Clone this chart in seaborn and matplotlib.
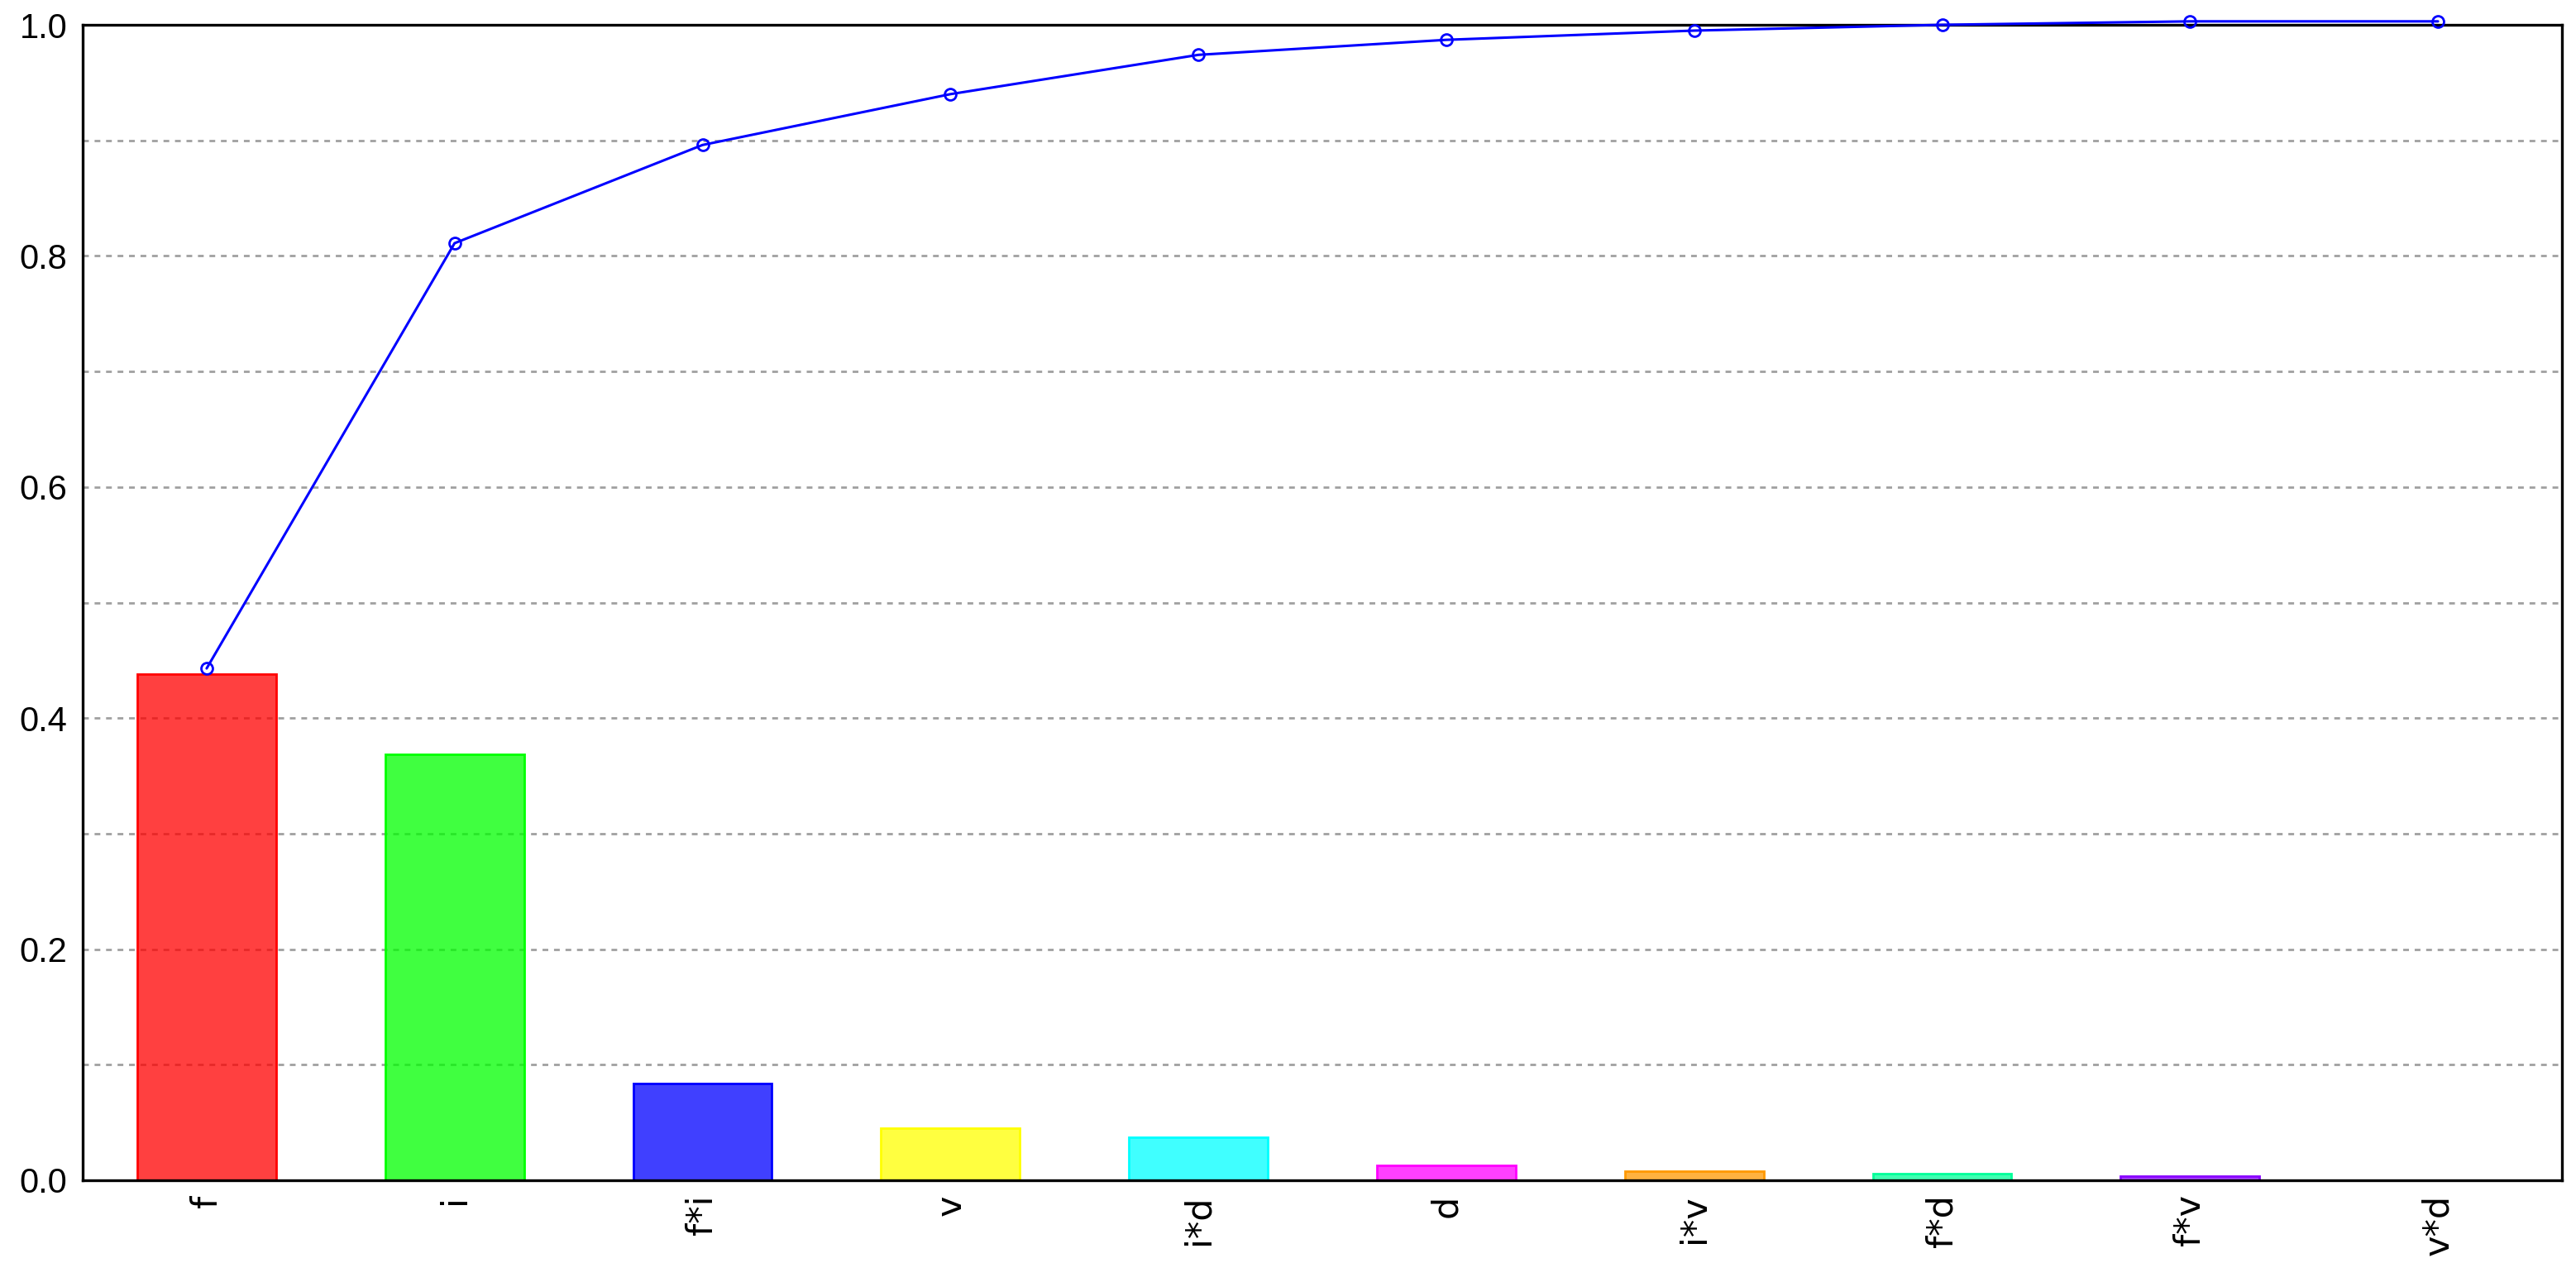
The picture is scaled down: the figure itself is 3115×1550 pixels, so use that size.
import matplotlib
matplotlib.use("Agg")
import matplotlib.pyplot as plt
from matplotlib.ticker import FuncFormatter
from matplotlib.colors import to_rgba
import numpy as np
import pandas as pd
import seaborn as sns

# ---- data ----
categories = ['f', 'i', 'f*i', 'v', 'i*d', 'd', 'i*v', 'f*d', 'f*v', 'v*d']
effects = [0.438, 0.369, 0.084, 0.045, 0.037, 0.013, 0.008, 0.0055, 0.0033, 0.0003]
cumulative = [0.443, 0.811, 0.896, 0.940, 0.974, 0.987, 0.995, 1.000, 1.003, 1.003]
bar_colors = ['#FF0000', '#00FF00', '#0000FF', '#FFFF00', '#00FFFF',
              '#FF00FF', '#FF9900', '#00FF99', '#8800FF', '#555555']
y_ticks = [0.0, 0.1, 0.2, 0.3, 0.4, 0.5, 0.6, 0.7, 0.8, 0.9, 1.0]

sns.set_theme(style='white')
plt.rcParams['font.family'] = ['DejaVu Sans']

W, H = 3115, 1550
fig = plt.figure(figsize=(W / 100, H / 100), dpi=100)
left, right, top, bottom = 100, 3098, 30, 1427
ax = fig.add_axes([left / W, 1 - bottom / H, (right - left) / W, (bottom - top) / H])

df = pd.DataFrame({'term': categories, 'effect': effects})
sns.barplot(data=df, x='term', y='effect', hue='term', palette=bar_colors,
            hue_order=categories, order=categories,
            width=0.56, saturation=1, legend=False, ax=ax)

for patch, c in zip(ax.patches, bar_colors):
    patch.set_facecolor(to_rgba(c, 0.75))
    patch.set_edgecolor(c)
    patch.set_linewidth(2.0)

ax.plot(np.arange(len(categories)), cumulative, color='#0000FF', linewidth=2.2,
        marker='o', markersize=10, markerfacecolor='none', markeredgecolor='#0000FF',
        markeredgewidth=2.0, clip_on=False, zorder=5)

ax.set_xlim(-0.5, len(categories) - 0.5)
ax.set_ylim(0.0, 1.0)
ax.set_yticks(y_ticks)
ax.yaxis.set_major_formatter(FuncFormatter(
    lambda v, p: f'{v:.1f}' if int(round(v * 10)) % 2 == 0 else ''))

ax.set_axisbelow(True)
ax.grid(False)
ax.yaxis.grid(True, color='#a0a0a0', linestyle=(0, (2.5, 2.5)), linewidth=2)

ax.tick_params(axis='both', which='major', direction='inout', length=15, width=2.2,
               color='black', labelcolor='black')
ax.tick_params(axis='x', labelrotation=90, labelsize=31, pad=5)
ax.tick_params(axis='y', labelsize=30, pad=6)
for lab in ax.get_yticklabels():
    lab.set_family(['Liberation Sans', 'DejaVu Sans'])

for s in ax.spines.values():
    s.set_visible(True)
    s.set_color('black')
    s.set_linewidth(2.4)

ax.set_xlabel('')
ax.set_ylabel('')

fig.savefig('out.png', dpi=100)
